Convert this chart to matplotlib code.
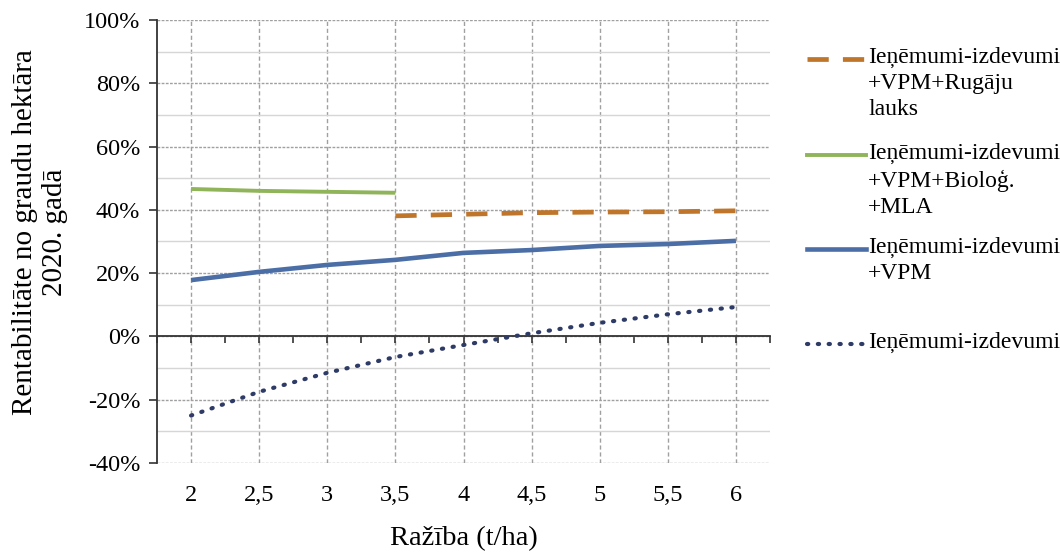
import matplotlib
matplotlib.use('Agg')
import matplotlib.pyplot as plt
from matplotlib.lines import Line2D
from matplotlib.ticker import MultipleLocator, FuncFormatter

plt.rcParams['font.family'] = ['Liberation Serif', 'DejaVu Serif']

# yield (t/ha) and profitability (%)
x_all = [2, 2.5, 3, 3.5, 4, 4.5, 5, 5.5, 6]
y_base = [-25.0, -17.5, -11.5, -6.5, -2.7, 1.0, 4.3, 7.0, 9.3]
y_vpm = [17.8, 20.4, 22.6, 24.2, 26.4, 27.3, 28.6, 29.2, 30.2]
x_bio = [2, 2.5, 3, 3.5]
y_bio = [46.6, 46.0, 45.7, 45.4]
x_rug = [3.5, 4, 4.5, 5, 5.5, 6]
y_rug = [38.1, 38.6, 39.1, 39.3, 39.4, 39.7]

labels = ['Ieņēmumi-izdevumi\n+VPM+Rugāju\nlauks',
          'Ieņēmumi-izdevumi\n+VPM+Bioloģ.\n+MLA',
          'Ieņēmumi-izdevumi\n+VPM',
          'Ieņēmumi-izdevumi']

C_RUG = '#BF752A'
C_BIO = '#8FB459'
C_VPM = '#4A6EA5'
C_BASE = '#2E3B66'
W, H = 1060, 552

fig = plt.figure(figsize=(W / 100, H / 100), dpi=100)
ax = fig.add_axes([157 / W, 1 - 463 / H, (770 - 157) / W, (463 - 20) / H])

ax.set_xlim(1.75, 6.25)
ax.set_ylim(-40, 100)

# grid
ax.yaxis.set_major_locator(MultipleLocator(20))
ax.yaxis.set_minor_locator(MultipleLocator(10))
ax.grid(which='major', axis='y', color='#a0a0a0', lw=1.0, ls=(0, (2, 1)))
ax.grid(which='minor', axis='y', color='#d6d6d6', lw=1.0, ls='-')
for xv in x_all:
    ax.axvline(xv, color='#a0a0a0', lw=1.0, ls=(0, (3, 2)), zorder=0.5)
ax.set_axisbelow(True)

# series
base_ls = (0, (0.3, 2.3))
rug_ls = (0, (4.5, 3))
ax.plot(x_all, y_base, color=C_BASE, lw=3, ls=base_ls, dash_capstyle='round', zorder=3)
ax.plot(x_all, y_vpm, color=C_VPM, lw=3.3, solid_capstyle='butt', zorder=3)
ax.plot(x_bio, y_bio, color=C_BIO, lw=2.8, solid_capstyle='butt', zorder=3)
ax.plot(x_rug, y_rug, color=C_RUG, lw=3.4, ls=rug_ls, zorder=3)

# spines: left axis, x axis crossing at 0
for s in ['top', 'right']:
    ax.spines[s].set_visible(False)
ax.spines['left'].set_color('#333333')
ax.spines['left'].set_linewidth(1.3)
ax.spines['bottom'].set_position(('data', 0))
ax.spines['bottom'].set_color('#333333')
ax.spines['bottom'].set_linewidth(1.3)
ax.xaxis.set_major_locator(MultipleLocator(0.25))
ax.tick_params(axis='x', which='both', direction='out', length=5, width=1.2,
               color='#333333', labelbottom=False)
ax.tick_params(axis='y', which='major', direction='out', length=6, width=1.2,
               color='#333333', labelsize=17.5, pad=6)
ax.tick_params(axis='y', which='minor', length=0)
ax.yaxis.set_major_formatter(FuncFormatter(lambda v, p: f'{v:.0f}%'))

# x tick labels below the plot area
sec = ax.secondary_xaxis('bottom')
sec.set_xticks(x_all, [f'{v:g}'.replace('.', ',') for v in x_all])
sec.tick_params(length=0, labelsize=17.5, pad=16)
sec.spines['bottom'].set_visible(False)
sec.set_xlabel('Ražība (t/ha)', fontsize=20.5, labelpad=14)

fig.text(40 / W, 1 - 232 / H, 'Rentabilitāte no graudu hektāra\n2020. gadā',
         rotation=90, ha='center', va='center', fontsize=21, linespacing=1.2)

# legend drawn by hand to keep the handle on the first text line
handles = [dict(color=C_RUG, lw=3.4, ls=rug_ls),
           dict(color=C_BIO, lw=2.8, ls='-'),
           dict(color=C_VPM, lw=3.3, ls='-'),
           dict(color=C_BASE, lw=3, ls=base_ls, dash_capstyle='round')]
rows = [59, 155, 249, 344]
for lab, hk, yp in zip(labels, handles, rows):
    fy = 1 - yp / H
    fig.add_artist(Line2D([807 / W, 866 / W], [fy, fy], transform=fig.transFigure, **hk))
    fig.text(868 / W, 1 - (yp - 12) / H, lab, ha='left', va='top', fontsize=17,
             linespacing=1.32)

fig.savefig('out.png', dpi=100, facecolor='white')
